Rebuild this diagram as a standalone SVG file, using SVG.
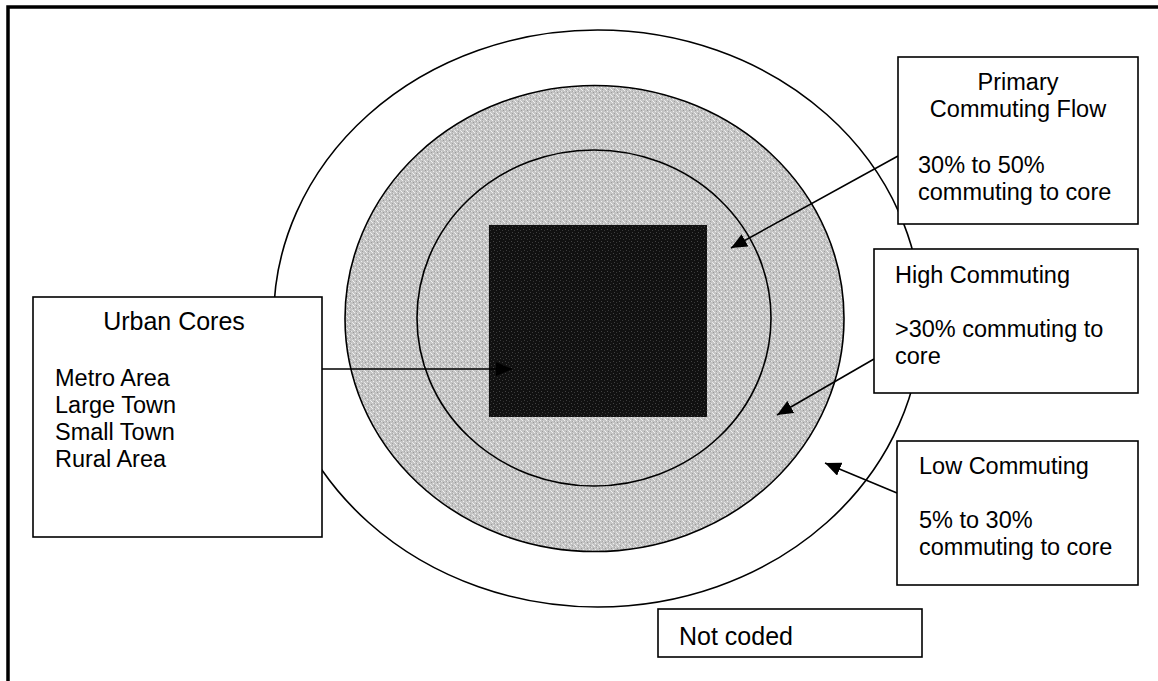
<svg xmlns="http://www.w3.org/2000/svg" width="1158" height="681" viewBox="0 0 1158 681">
  <style>
    .box { fill: #fff; stroke: #000; stroke-width: 1.6; }
    .ring { fill: none; stroke: #000; stroke-width: 1.6; }
    .lbl { font-family: "Liberation Sans", Arial, sans-serif; font-size: 23.5px; fill: #000; }
    .mid { text-anchor: middle; }
    .link { stroke: #000; stroke-width: 1.6; fill: none; marker-end: url(#head); }
  </style>
  <defs>
    <marker id="head" markerUnits="userSpaceOnUse" viewBox="0 0 16 14" refX="16" refY="7" markerWidth="16" markerHeight="14" orient="auto">
      <path d="M0,0 L16,7 L0,14 Z" fill="#000"/>
    </marker>
    <!-- speckled light-grey fill -->
    <pattern id="speckle" width="6" height="6" patternUnits="userSpaceOnUse">
      <rect width="6" height="6" fill="#c4c4c4"/>
      <rect x="0" y="0" width="1" height="1" fill="#eee"/>
      <rect x="3" y="1" width="1" height="1" fill="#e6e6e6"/>
      <rect x="1" y="3" width="1" height="1" fill="#f0f0f0"/>
      <rect x="4" y="4" width="1" height="1" fill="#e8e8e8"/>
      <rect x="5" y="2" width="1" height="1" fill="#9a9a9a"/>
      <rect x="2" y="5" width="1" height="1" fill="#a0a0a0"/>
      <rect x="2" y="1" width="1" height="1" fill="#a8a8a8"/>
      <rect x="5" y="5" width="1" height="1" fill="#f4f4f4"/>
    </pattern>
    <!-- speckled near-black fill -->
    <pattern id="darkspeckle" width="6" height="6" patternUnits="userSpaceOnUse">
      <rect width="6" height="6" fill="#111"/>
      <rect x="1" y="1" width="1" height="1" fill="#444"/>
      <rect x="4" y="2" width="1" height="1" fill="#3a3a3a"/>
      <rect x="2" y="4" width="1" height="1" fill="#404040"/>
      <rect x="5" y="5" width="1" height="1" fill="#333"/>
    </pattern>
  </defs>

  <rect width="1158" height="681" fill="#fff"/>

  <!-- page frame (top and left edges) -->
  <path d="M8,681 L8,7 L1158,7" fill="none" stroke="#000" stroke-width="3.5"/>

  <!-- concentric zones -->
  <g id="zones">
    <ellipse id="outer-zone" cx="597.7" cy="318.5" rx="324" ry="288.5" fill="#fff" stroke="#000" stroke-width="1.6"/>
    <ellipse id="commute-zone" cx="594.5" cy="318.5" rx="249.5" ry="233" fill="url(#speckle)" stroke="#000" stroke-width="1.6"/>
    <ellipse id="primary-zone" class="ring" cx="594" cy="318" rx="177" ry="168"/>
    <rect id="core" x="489" y="225" width="218" height="192" fill="url(#darkspeckle)"/>
  </g>

  <!-- leader arrows -->
  <g id="connectors">
    <line class="link" x1="322" y1="369" x2="512" y2="369"/>
    <line class="link" x1="898" y1="156" x2="731" y2="248"/>
    <line class="link" x1="874" y1="359" x2="777" y2="415"/>
    <line class="link" x1="897" y1="493" x2="825" y2="463"/>
  </g>

  <g id="urban-cores">
    <rect class="box" x="33" y="297" width="289" height="240"/>
    <text class="lbl mid" x="174" y="330" style="font-size:25px">Urban Cores</text>
    <text class="lbl" x="55" y="386">Metro Area</text>
    <text class="lbl" x="55" y="413">Large Town</text>
    <text class="lbl" x="55" y="440">Small Town</text>
    <text class="lbl" x="55" y="467">Rural Area</text>
  </g>

  <g id="primary-flow">
    <rect class="box" x="898" y="57" width="240" height="167"/>
    <text class="lbl mid" x="1018" y="90">Primary</text>
    <text class="lbl mid" x="1018" y="117">Commuting Flow</text>
    <text class="lbl" x="918" y="173">30% to 50%</text>
    <text class="lbl" x="918" y="200">commuting to core</text>
  </g>

  <g id="high-commuting">
    <rect class="box" x="874" y="249" width="264" height="144"/>
    <text class="lbl" x="895" y="283">High Commuting</text>
    <text class="lbl" x="895" y="337">&gt;30% commuting to</text>
    <text class="lbl" x="895" y="364">core</text>
  </g>

  <g id="low-commuting">
    <rect class="box" x="897" y="441" width="241" height="144"/>
    <text class="lbl" x="919" y="474">Low Commuting</text>
    <text class="lbl" x="919" y="528">5% to 30%</text>
    <text class="lbl" x="919" y="555">commuting to core</text>
  </g>

  <g id="not-coded">
    <rect class="box" x="658" y="609" width="264" height="48"/>
    <text class="lbl" x="679" y="645" style="font-size:25px">Not coded</text>
  </g>
</svg>
